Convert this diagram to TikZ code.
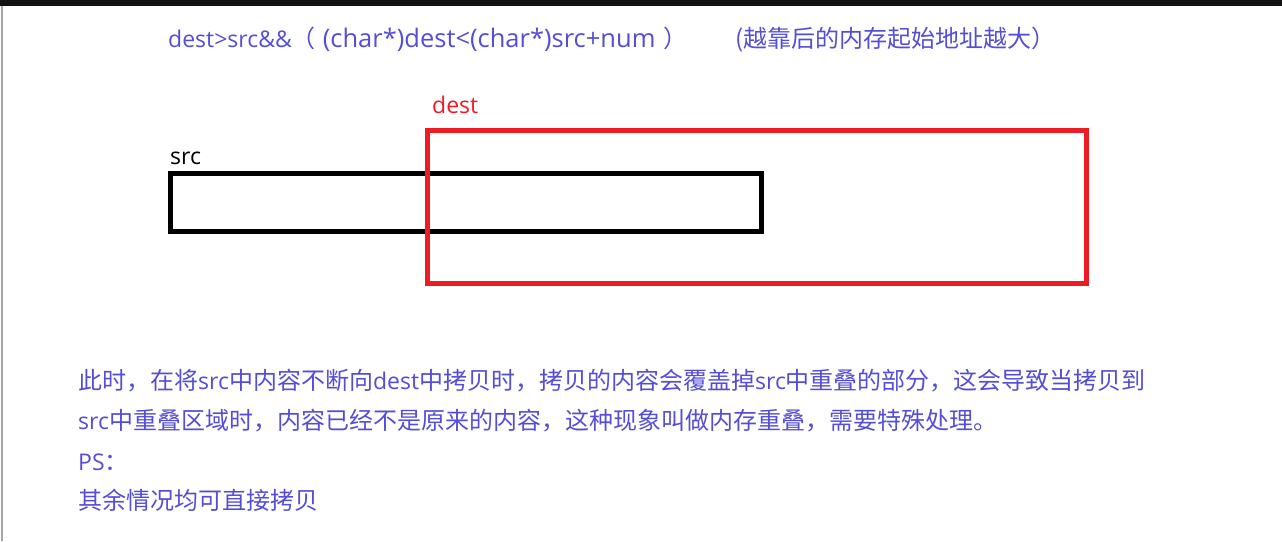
\documentclass[tikz,border=0pt]{standalone}
\usepackage{fontspec}
\setmainfont{Noto Sans CJK SC}
\newfontfamily\latinfont{Open Sans}
\newcommand{\lt}[1]{{\latinfont\fontsize{23}{27}\selectfont #1}}
\newcommand{\ltwide}[1]{{\latinfont\fontsize{25.5}{28}\selectfont #1}}
\usetikzlibrary{positioning}
\definecolor{notecol}{RGB}{84,78,214}
\definecolor{destred}{RGB}{237,28,36}
\begin{document}
\begin{tikzpicture}[x=1pt,y=-1pt,
    txt/.style={font=\fontsize{24}{28}\selectfont, inner sep=0pt, anchor=base west},
    note/.style={txt, text=notecol},
    membox/.style={draw, line width=5pt, inner sep=0pt}]
    \useasboundingbox (0,0) rectangle (1282,541);
    % frame of the screenshot
    \fill[black!93] (0,0) rectangle (1282,6);
    \draw[black!35, line width=1.5pt] (2,6) -- (2,541);

    % condition
    \node[note] (cond) at (168,47) {\lt{dest>src\&\&}（\hspace{7pt}\ltwide{(char*)dest<(char*)src+num}\hspace{8pt}）};
    \node[note] (hint) at (735,47) {(越靠后的内存起始地址越大）};

    % the two memory blocks
    \node[membox, minimum width=591pt, minimum height=58pt] (src) at (466,202.5) {};
    \node[membox, draw=destred, minimum width=659pt, minimum height=153pt] (dest) at (757,207) {};
    \node[txt, anchor=base west] (srclabel) at ([xshift=2pt,yshift=7pt]src.north west) {\lt{src}};
    \node[txt, text=destred, anchor=base west] (destlabel) at ([xshift=7pt,yshift=15pt]dest.north west) {\lt{dest}};

    % explanation
    \node[note] (line1) at (78,389) {此时，在将\lt{src}中内容不断向\lt{dest}中拷贝时，拷贝的内容会覆盖掉\lt{src}中重叠的部分，这会导致当拷贝到};
    \node[note] (line2) at (78,429) {\lt{src}中重叠区域时，内容已经不是原来的内容，这种现象叫做内存重叠，需要特殊处理。};
    \node[note] (line3) at (78,470) {\lt{PS}：};
    \node[note] (line4) at (78,509) {其余情况均可直接拷贝};
\end{tikzpicture}
\end{document}
